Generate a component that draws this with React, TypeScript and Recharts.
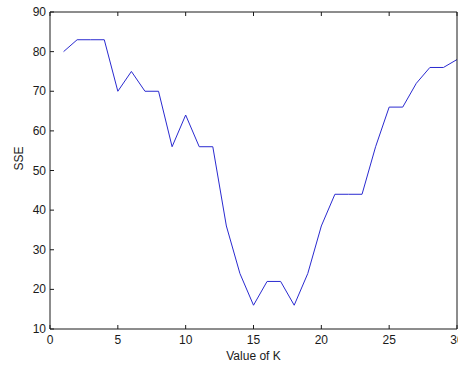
import { Line, LineChart, XAxis, YAxis } from "recharts";

const kValues = [1, 2, 3, 4, 5, 6, 7, 8, 9, 10, 11, 12, 13, 14, 15, 16, 17, 18, 19, 20, 21, 22, 23, 24, 25, 26, 27, 28, 29, 30];
const sseValues = [80, 83, 83, 83, 70, 75, 70, 70, 56, 64, 56, 56, 36, 24, 16, 22, 22, 16, 24, 36, 44, 44, 44, 56, 66, 66, 72, 76, 76, 78];
const xTicks = [0, 5, 10, 15, 20, 25, 30];
const yTicks = [10, 20, 30, 40, 50, 60, 70, 80, 90];

const data = kValues.map((k, i) => ({ k, sse: sseValues[i] }));

const FONT = "'Liberation Sans', Arial, sans-serif";
const AXIS = "#1a1a1a";
const TICK_LEN = 4;

// MATLAB-style ticks point into the plot box
const BottomTick = ({ x, y, payload }: any) => (
  <g>
    <line x1={x} y1={y} x2={x} y2={y - TICK_LEN} stroke={AXIS} />
    <text x={x} y={y + 15} textAnchor="middle" fontSize={12} fontFamily={FONT} fill={AXIS}>
      {payload.value}
    </text>
  </g>
);

const TopTick = ({ x, y }: any) => <line x1={x} y1={y} x2={x} y2={y + TICK_LEN} stroke={AXIS} />;

const LeftTick = ({ x, y, payload }: any) => (
  <g>
    <line x1={x} y1={y} x2={x + TICK_LEN} y2={y} stroke={AXIS} />
    <text x={x - 4} y={y + 4} textAnchor="end" fontSize={12} fontFamily={FONT} fill={AXIS}>
      {payload.value}
    </text>
  </g>
);

const RightTick = ({ x, y }: any) => <line x1={x} y1={y} x2={x - TICK_LEN} y2={y} stroke={AXIS} />;

export default function App() {
  return (
    <div style={{ position: "absolute", left: 0, top: 0, background: "#fff" }}>
      <LineChart width={458} height={365} data={data} margin={{ top: 11, right: 0, bottom: 0, left: 0 }}>
        <XAxis
          xAxisId="b"
          dataKey="k"
          type="number"
          domain={[0, 30]}
          ticks={xTicks}
          interval={0}
          height={36}
          tickSize={0}
          tickMargin={0}
          tickLine={false}
          stroke={AXIS}
          tick={BottomTick}
          label={{ value: "Value of K", position: "insideBottom", offset: 5, fontSize: 12, fontFamily: FONT, fill: AXIS }}
        />
        <XAxis
          xAxisId="t"
          orientation="top"
          dataKey="k"
          type="number"
          domain={[0, 30]}
          ticks={xTicks}
          interval={0}
          height={1}
          tickSize={0}
          tickMargin={0}
          tickLine={false}
          stroke={AXIS}
          tick={TopTick}
        />
        <YAxis
          yAxisId="l"
          type="number"
          domain={[10, 90]}
          ticks={yTicks}
          interval={0}
          width={50}
          tickSize={0}
          tickMargin={0}
          tickLine={false}
          stroke={AXIS}
          tick={LeftTick}
          label={{ value: "SSE", angle: -90, position: "insideLeft", offset: 19, fontSize: 12, fontFamily: FONT, fill: AXIS }}
        />
        <YAxis
          yAxisId="r"
          orientation="right"
          type="number"
          domain={[10, 90]}
          ticks={yTicks}
          interval={0}
          width={1}
          tickSize={0}
          tickMargin={0}
          tickLine={false}
          stroke={AXIS}
          tick={RightTick}
        />
        <Line
          xAxisId="b"
          yAxisId="l"
          dataKey="sse"
          stroke="#2a2ad0"
          strokeWidth={1}
          dot={false}
          isAnimationActive={false}
        />
      </LineChart>
    </div>
  );
}
